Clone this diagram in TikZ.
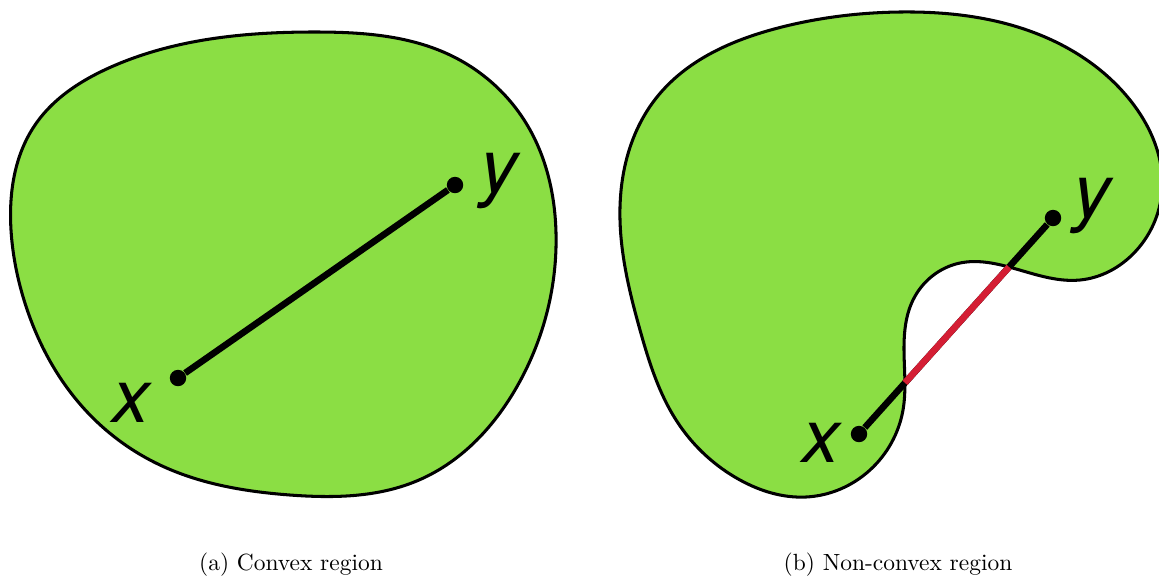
\documentclass[tikz,border=0pt]{standalone}
\usepackage{fontspec}
\usepackage{tikz}
\usetikzlibrary{intersections,positioning,hobby}
\newfontfamily\ptfont{TeX Gyre Heros}
\definecolor{blobgreen}{RGB}{139,222,68}
\definecolor{cutred}{RGB}{212,30,52}
\tikzset{
  blob/.style={draw=black, line width=1.3pt, fill=blobgreen},
  seg/.style={line width=2.8pt},
  endpt/.style={circle, fill=black, inner sep=0pt, minimum size=7pt},
  ptlabel/.style={font=\ptfont\itshape\fontsize{32}{32}\selectfont,
                  anchor=base, inner sep=0pt},
  caption/.style={font=\fontsize{10}{12}\selectfont}
}

\begin{document}
\begin{tikzpicture}[x=0.015cm, y=-0.015cm]
  \useasboundingbox (0,0) rectangle (1159,575);

  % (a) convex region
  \path[blob] plot[closed hobby] coordinates {
    (11,230) (35,125) (111,67) (315,32) (450,55) (526,123) (556,233)
    (519,383) (419,480) (290,495) (160,465) (90,415) (24,300)};
  \node[endpt] (xa) at (178,378) {};
  \node[endpt] (ya) at (455,185) {};
  \draw[seg] (xa) -- (ya);
  \node[ptlabel] (lxa) at (131,422) {x};
  \node[ptlabel] (lya) at (499,192) {y};
  \node[caption] (capa) at (291,565) {(a) Convex region};

  % (b) non-convex region
  \path[blob, name path=shapeb] plot[closed hobby] coordinates {
    (620,207) (657,97) (778,28) (900,12) (1045,37) (1130,100)
    (1162,190) (1134,253) (1080,280) (1009,267) (960,263) (913,300)
    (904,350) (903,410) (870,470) (806,497) (740,480) (678,423)
    (640,330)};
  \node[endpt] (xb) at (859,434) {};
  \node[endpt] (yb) at (1053,218) {};
  \path[name path=segb] (xb.center) -- (yb.center);
  \draw[seg] (xb) -- (yb);
  \draw[seg, cutred, name intersections={of=shapeb and segb, by={cb1,cb2}}]
    (cb1) -- (cb2);
  \node[ptlabel] (lxb) at (821,462) {x};
  \node[ptlabel] (lyb) at (1092,217) {y};
  \node[caption] (capb) at (898,565) {(b) Non-convex region};
\end{tikzpicture}
\end{document}
